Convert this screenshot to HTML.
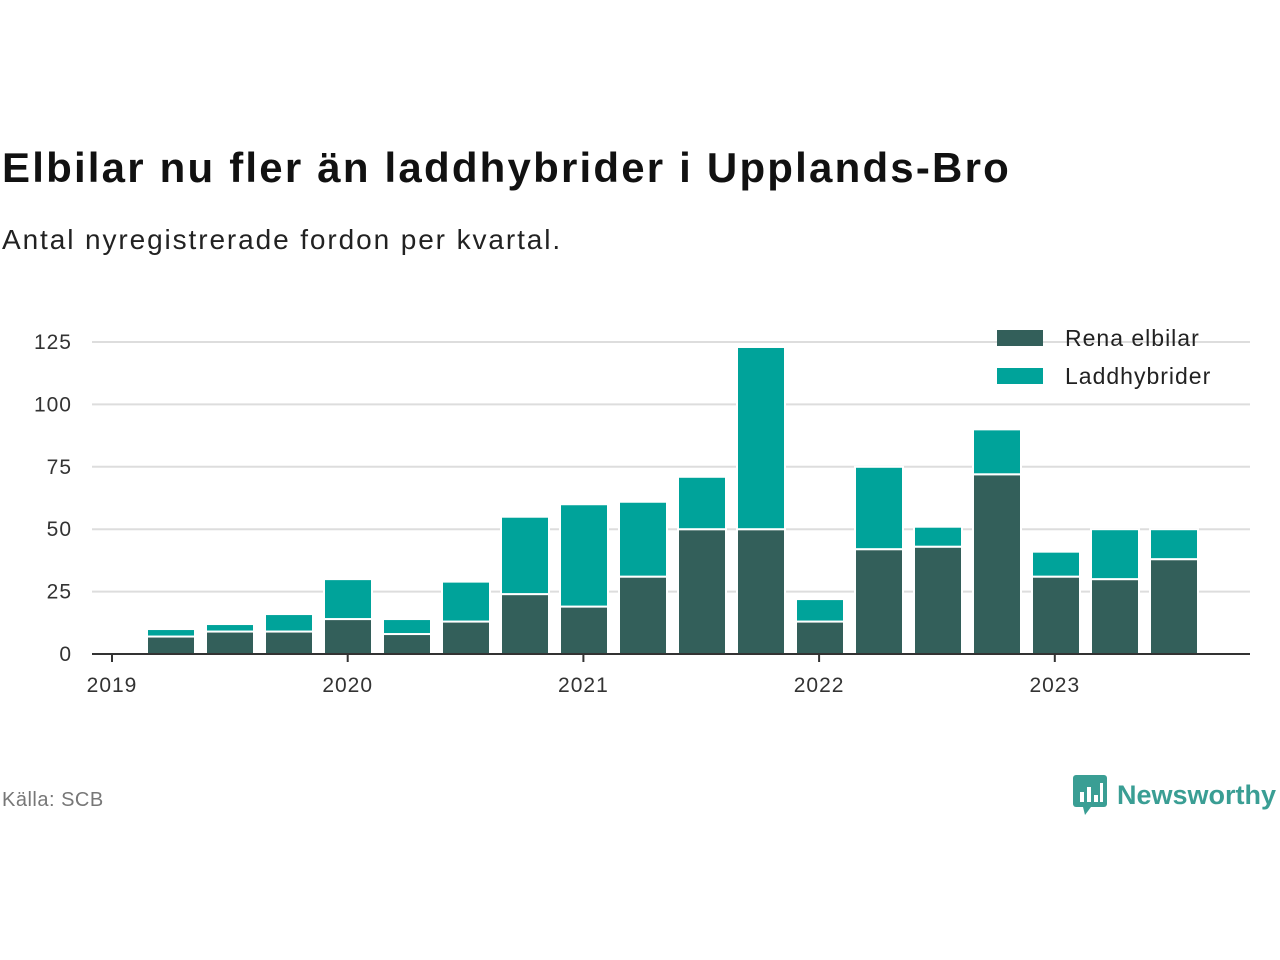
<!DOCTYPE html>
<html><head><meta charset="utf-8"><style>
body{margin:0;width:1280px;height:960px;background:#fff;font-family:"Liberation Sans",sans-serif;overflow:hidden;position:relative}
.t{position:absolute;left:2px;top:144px;font-size:42px;font-weight:bold;color:#111;letter-spacing:2.2px}
.s{position:absolute;left:2px;top:224px;font-size:28px;color:#222;letter-spacing:1.9px}
.src{position:absolute;left:2px;top:789px;font-size:20px;color:#777;letter-spacing:0.5px}
.logo{position:absolute;left:1073px;top:775px;display:flex;align-items:center;gap:8px;color:#3a9e94;font-size:27px;font-weight:bold}
</style></head><body>
<div class="t">Elbilar nu fler än laddhybrider i Upplands-Bro</div>
<div class="s">Antal nyregistrerade fordon per kvartal.</div>
<svg id="c" width="1280" height="960" style="position:absolute;left:0;top:0"></svg>
<div class="src">Källa: SCB</div>
<div class="logo"><svg width="36" height="40" viewBox="0 0 36 40"><rect x="0" y="0" width="34" height="32" rx="3" fill="#3a9e94"/><polygon points="10,32 18,32 12,40" fill="#3a9e94"/><rect x="7" y="17" width="4" height="10" fill="#fff"/><rect x="14" y="12" width="4" height="15" fill="#fff"/><rect x="21" y="20" width="4" height="7" fill="#fff"/><rect x="27" y="8" width="3" height="19" fill="#fff"/></svg><span>Newsworthy</span></div>
<script>
const electric=[7,9,9,14,8,13,24,19,31,50,50,13,42,43,72,31,30,38];
const hybrid=[3,3,7,16,6,16,31,41,30,21,73,9,33,8,18,10,20,12];
const yTicks=[0,25,50,75,100,125];
const xYears=["2019","2020","2021","2022","2023"];
const svg=document.getElementById('c');const NS="http://www.w3.org/2000/svg";
const y=v=>654-v*2.496;const x=i=>112+59*(i+1);const xy=k=>112+235.7*k;
function el(t,a,txt){const e=document.createElementNS(NS,t);for(const k in a)e.setAttribute(k,a[k]);if(txt!==undefined)e.textContent=txt;svg.appendChild(e);return e;}
yTicks.forEach(v=>{
 if(v>0){const g=el('line',{x1:92,x2:1250,y1:y(v),y2:y(v),stroke:'#ddd','stroke-width':2});
 
 }
 const t=el('text',{x:72,y:y(v)+7,'text-anchor':'end','font-size':21,'letter-spacing':1,fill:'#333'},v);
 
 
});
electric.forEach((e,i)=>{
 const cx=x(i);
 const r1=el('rect',{x:cx-24,y:y(e),width:48,height:y(0)-y(e),fill:'#335f5a',stroke:'#fff','stroke-width':2});
 
 
 const h=hybrid[i];
 const r2=el('rect',{x:cx-24,y:y(e+h),width:48,height:y(e)-y(e+h),fill:'#00a39a',stroke:'#fff','stroke-width':2});
 
 
});
const ax=el('line',{x1:92,x2:1250,y1:654,y2:654,stroke:'#333','stroke-width':2});


xYears.forEach((yr,k)=>{
 const tk=el('line',{x1:xy(k),x2:xy(k),y1:654,y2:662,stroke:'#333','stroke-width':2});
 
 
 const t=el('text',{x:xy(k),y:692,'text-anchor':'middle','font-size':21,'letter-spacing':1,fill:'#333'},yr);
 
 
});
[["Rena elbilar","#335f5a",330],["Laddhybrider","#00a39a",368]].forEach(([n,c,yy],i)=>{
 const r=el('rect',{x:997,y:yy,width:46,height:16,fill:c});
 
 
 const t=el('text',{x:1065,y:yy+16,'font-size':23,'letter-spacing':1,fill:'#222'},n);
 
 
});
</script>
</body></html>
